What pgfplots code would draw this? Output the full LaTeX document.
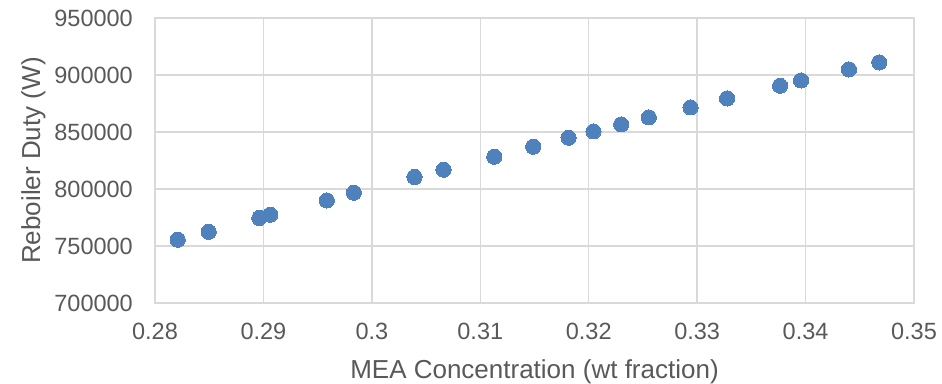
\documentclass[border=0pt]{standalone}
\usepackage{pgfplots}
\pgfplotsset{compat=1.18}
\usepackage{fontspec}
\setmainfont{Liberation Sans}
\definecolor{txt}{HTML}{595959}
\definecolor{gridc}{HTML}{D9D9D9}
\definecolor{dotc}{HTML}{4F81BD}
\begin{document}
\begin{tikzpicture}
\path[use as bounding box] (-155pt,-80pt) rectangle (787pt,303pt);
\begin{axis}[
  at={(0,0)}, anchor=south west,
  scale only axis,
  width=759pt, height=285pt,
  xmin=0.28, xmax=0.35, ymin=700000, ymax=950000,
  xtick={0.28,0.29,0.30,0.31,0.32,0.33,0.34,0.35},
  xticklabels={0.28,0.29,0.3,0.31,0.32,0.33,0.34,0.35},
  ytick={700000,750000,800000,850000,900000,950000},
  yticklabels={700000,750000,800000,850000,900000,950000},
  scaled ticks=false,
  major tick length=0pt,
  grid=major,
  major grid style={gridc, line width=1.3pt},
  axis line style={gridc, line width=1.3pt},
  tick style={draw=none},
  xticklabel style={anchor=north, inner sep=0pt, yshift=-20pt, font=\fontsize{23.5}{28}\selectfont, text=txt},
  yticklabel style={anchor=east, inner sep=0pt, xshift=-22pt, font=\fontsize{23.5}{28}\selectfont, text=txt},
  xlabel={MEA Concentration (wt fraction)},
  ylabel={Reboiler Duty (W)},
  xlabel style={at={(axis description cs:0.5,-0.2642)}, anchor=base, inner sep=0pt, font=\fontsize{26}{31}\selectfont, text=txt},
  ylabel style={at={(axis description cs:-0.1515,0.5)}, rotate=0, anchor=base, inner sep=0pt, font=\fontsize{26}{31}\selectfont, text=txt},
  clip=false,
]
\addplot[only marks, mark=*, mark size=7.6pt, mark options={fill=dotc, draw=dotc, line width=0pt}] coordinates {
(0.28209,755500)
(0.28495,762500)
(0.28962,774560)
(0.29063,777450)
(0.29585,790000)
(0.29834,796750)
(0.30394,810530)
(0.30661,816930)
(0.31129,828330)
(0.31488,837100)
(0.31814,845000)
(0.32044,850530)
(0.32299,856670)
(0.32554,862810)
(0.32939,871580)
(0.33276,879470)
(0.33765,890610)
(0.33958,895260)
(0.34400,904910)
(0.34680,911050)
};
\end{axis}
\end{tikzpicture}
\end{document}
